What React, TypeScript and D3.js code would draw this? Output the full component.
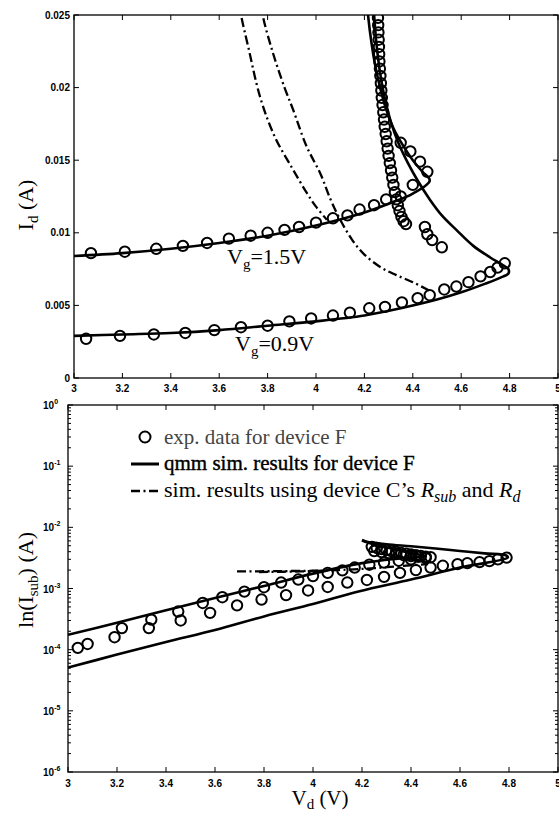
import React from 'react';
import * as d3 from 'd3';

type Pt = [number, number];

// ---------- axis values ----------
const vdTicks = [3, 3.2, 3.4, 3.6, 3.8, 4, 4.2, 4.4, 4.6, 4.8, 5];
const vdTickLabels = ['3', '3.2', '3.4', '3.6', '3.8', '4', '4.2', '4.4', '4.6', '4.8', '5'];
const idTicks = [0, 0.005, 0.01, 0.015, 0.02, 0.025];
const idTickLabels = ['0', '0.005', '0.01', '0.015', '0.02', '0.025'];
const subDecades = [-6, -5, -4, -3, -2, -1, 0];

// ---------- I_d (top panel) ----------
// measured drain current, Vg = 1.5 V (forward sweep and turn-around)
const expId15: Pt[] = [
  [3.07, 0.0086], [3.21, 0.0087], [3.34, 0.0089], [3.45, 0.0091], [3.55, 0.0093],
  [3.64, 0.0096], [3.73, 0.0098], [3.80, 0.0100], [3.87, 0.0102], [3.93, 0.0104],
  [4.00, 0.0107], [4.07, 0.0110], [4.13, 0.0112], [4.18, 0.0116], [4.24, 0.0119],
  [4.29, 0.0123], [4.35, 0.0125], [4.40, 0.0133], [4.46, 0.0142],
  [4.43, 0.0149], [4.39, 0.0156], [4.35, 0.0162],
];
// measured snapback branch
const expIdSnap: Pt[] = [
  [4.256, 0.0248], [4.257, 0.0243], [4.258, 0.0238], [4.259, 0.0233], [4.260, 0.0228],
  [4.261, 0.0223], [4.262, 0.0218], [4.264, 0.0213], [4.266, 0.0208], [4.268, 0.0203],
  [4.270, 0.0198], [4.272, 0.0193], [4.275, 0.0188], [4.278, 0.0183], [4.281, 0.0178],
  [4.284, 0.0173], [4.288, 0.0168], [4.292, 0.0163], [4.296, 0.0158], [4.300, 0.0153],
  [4.305, 0.0148], [4.310, 0.0143], [4.315, 0.0138], [4.320, 0.0133], [4.326, 0.0128],
  [4.332, 0.0123], [4.338, 0.0119], [4.345, 0.0115], [4.353, 0.0111], [4.362, 0.0108],
  [4.372, 0.0106],
  [4.45, 0.0104], [4.46, 0.0099], [4.48, 0.0095], [4.52, 0.0090],
];
// measured drain current, Vg = 0.9 V
const expId09: Pt[] = [
  [3.05, 0.0027], [3.19, 0.0029], [3.33, 0.0030], [3.46, 0.0031], [3.58, 0.0033],
  [3.69, 0.0035], [3.80, 0.0036], [3.89, 0.0039], [3.98, 0.0041], [4.07, 0.0043],
  [4.14, 0.0045], [4.22, 0.0048], [4.285, 0.0049], [4.355, 0.0052], [4.42, 0.0055],
  [4.47, 0.0057], [4.53, 0.0061], [4.58, 0.0063], [4.63, 0.0066], [4.68, 0.0070],
  [4.72, 0.0073], [4.75, 0.0076], [4.78, 0.0079],
];
// qmm simulation, Vg = 1.5 V
const simId15: Pt[] = [
  [3.0, 0.0084], [3.2, 0.0086], [3.4, 0.0089], [3.6, 0.0093], [3.8, 0.0098],
  [4.0, 0.0105], [4.2, 0.0114], [4.3, 0.0120], [4.4, 0.0127], [4.47, 0.0136],
  [4.44, 0.0142], [4.40, 0.0150], [4.36, 0.0160], [4.32, 0.0172], [4.29, 0.0185],
  [4.265, 0.0200], [4.245, 0.0215], [4.23, 0.0230], [4.215, 0.0250], [4.21, 0.0260],
];
// qmm simulation, Vg = 0.9 V
const simId09: Pt[] = [
  [3.0, 0.0029], [3.2, 0.0030], [3.4, 0.0031], [3.6, 0.0033], [3.8, 0.0036],
  [4.0, 0.0039], [4.2, 0.0043], [4.35, 0.0048], [4.5, 0.0054], [4.6, 0.0059],
  [4.7, 0.0065], [4.76, 0.0069], [4.795, 0.0072], [4.795, 0.0075], [4.77, 0.0078],
  [4.72, 0.0083], [4.65, 0.0091], [4.58, 0.0102], [4.52, 0.0112], [4.47, 0.0123],
  [4.42, 0.0136], [4.38, 0.0148], [4.34, 0.0162], [4.31, 0.0176], [4.285, 0.0192],
  [4.265, 0.0210], [4.25, 0.0230], [4.24, 0.0250], [4.235, 0.0260],
];
// simulation with device C's R_sub and R_d
const altId15: Pt[] = [
  [3.68, 0.0260], [3.69, 0.0250], [3.72, 0.0228], [3.77, 0.0193], [3.83, 0.0166],
  [3.90, 0.0145], [3.96, 0.0128], [4.00, 0.0118], [4.045, 0.0109],
];
const altId09: Pt[] = [
  [3.775, 0.0260], [3.78, 0.0250], [3.82, 0.0225], [3.87, 0.0200], [3.905, 0.0185],
  [3.96, 0.0160], [4.02, 0.0140], [4.06, 0.0123], [4.10, 0.0109], [4.15, 0.0095],
  [4.20, 0.0085], [4.27, 0.0076], [4.33, 0.0071], [4.40, 0.0066], [4.47, 0.0060],
];

// ---------- I_sub (bottom panel) ----------
const expSubLow: Pt[] = [
  [3.04, 1.07e-4], [3.19, 1.6e-4], [3.33, 2.25e-4], [3.46, 3.0e-4], [3.58, 4.0e-4],
  [3.69, 5.3e-4], [3.79, 6.6e-4], [3.89, 7.8e-4], [3.98, 9.3e-4], [4.06, 1.06e-3],
  [4.14, 1.25e-3], [4.22, 1.38e-3], [4.29, 1.55e-3], [4.355, 1.8e-3], [4.42, 2.0e-3],
  [4.48, 2.2e-3], [4.53, 2.35e-3], [4.59, 2.5e-3], [4.63, 2.6e-3], [4.68, 2.7e-3],
  [4.72, 2.8e-3], [4.755, 3.0e-3], [4.79, 3.2e-3],
];
const expSubHigh: Pt[] = [
  [3.08, 1.24e-4], [3.22, 2.25e-4], [3.34, 3.1e-4], [3.45, 4.2e-4], [3.55, 5.8e-4],
  [3.63, 7.2e-4], [3.72, 8.9e-4], [3.80, 1.05e-3], [3.87, 1.25e-3], [3.94, 1.4e-3],
  [4.00, 1.6e-3], [4.06, 1.8e-3], [4.12, 1.98e-3], [4.17, 2.2e-3], [4.23, 2.45e-3],
  [4.29, 2.65e-3], [4.35, 2.85e-3], [4.40, 3.0e-3], [4.46, 3.15e-3],
];
const expSubSnap: Pt[] = [
  [4.24, 4.8e-3], [4.26, 4.6e-3], [4.28, 4.4e-3], [4.30, 4.25e-3], [4.32, 4.1e-3],
  [4.34, 3.95e-3], [4.36, 3.8e-3], [4.38, 3.7e-3], [4.40, 3.6e-3], [4.42, 3.5e-3],
  [4.44, 3.4e-3], [4.46, 3.3e-3], [4.48, 3.25e-3], [4.25, 4.1e-3], [4.28, 3.95e-3],
  [4.31, 3.8e-3], [4.34, 3.65e-3], [4.37, 3.5e-3], [4.40, 3.4e-3], [4.43, 3.3e-3],
];
const simSubHigh: Pt[] = [
  [3.0, 1.75e-4], [3.2, 2.75e-4], [3.4, 4.4e-4], [3.6, 7.0e-4], [3.8, 1.1e-3],
  [4.0, 1.75e-3], [4.2, 2.6e-3], [4.35, 3.1e-3], [4.46, 3.4e-3], [4.40, 3.8e-3],
  [4.33, 4.4e-3], [4.27, 5.0e-3], [4.22, 5.7e-3], [4.20, 6.1e-3],
];
const simSubLow: Pt[] = [
  [3.0, 5.1e-5], [3.2, 8.3e-5], [3.4, 1.34e-4], [3.6, 2.1e-4], [3.8, 3.5e-4],
  [4.0, 5.6e-4], [4.19, 9.0e-4], [4.4, 1.4e-3], [4.6, 2.2e-3], [4.795, 3.2e-3],
  [4.79, 3.45e-3], [4.7, 3.75e-3], [4.6, 4.1e-3], [4.5, 4.5e-3], [4.4, 4.9e-3],
  [4.3, 5.3e-3], [4.22, 5.8e-3], [4.20, 6.2e-3],
];
const altSub15: Pt[] = [
  [3.69, 1.9e-3], [3.85, 1.92e-3], [4.0, 1.95e-3], [4.05, 1.95e-3],
];
const altSub09: Pt[] = [
  [3.78, 1.86e-3], [3.95, 1.9e-3], [4.1, 2.0e-3], [4.25, 2.15e-3], [4.4, 2.4e-3],
  [4.47, 2.5e-3],
];

// ---------- layout ----------
const W = 559;
const H = 814;
const top = { l: 74, r: 558, t: 15, b: 378 };
const bot = { l: 68, r: 558, t: 405, b: 772 };

const xTop = d3.scaleLinear().domain([3, 5]).range([top.l, top.r]);
const yTop = d3.scaleLinear().domain([0, 0.025]).range([top.b, top.t]);
const xBot = d3.scaleLinear().domain([3, 5]).range([bot.l, bot.r]);
const yBot = d3.scaleLog().domain([1e-6, 1]).range([bot.b, bot.t]);

const lineTop = d3.line<Pt>().x((d) => xTop(d[0])).y((d) => yTop(d[1])).curve(d3.curveCatmullRom.alpha(0.5));
const lineBot = d3.line<Pt>().x((d) => xBot(d[0])).y((d) => yBot(d[1])).curve(d3.curveCatmullRom.alpha(0.5));

const tickFont = { fontFamily: '"Liberation Sans", Arial, sans-serif', fontWeight: 700, fontSize: 10 };
const serif = '"Liberation Serif", "Times New Roman", serif';
const DASHDOT = '9,3.5,2,3.5';

function Circles({ data, x, y }: { data: Pt[]; x: (v: number) => number; y: (v: number) => number }) {
  return (
    <g fill="none" stroke="#000" strokeWidth={2}>
      {data.map((d, i) => (
        <circle key={i} cx={x(d[0])} cy={y(d[1])} r={5.2} />
      ))}
    </g>
  );
}

export default function App() {
  const minorSub = yBot.ticks().filter((v) => Math.abs(Math.log10(v) - Math.round(Math.log10(v))) > 1e-6);
  return (
    <svg width={W} height={H} style={{ position: 'absolute', left: 0, top: 0, background: '#fff' }}>
      <defs>
        <clipPath id="clipTop">
          <rect x={top.l} y={top.t} width={top.r - top.l} height={top.b - top.t} />
        </clipPath>
        <clipPath id="clipBot">
          <rect x={bot.l} y={bot.t} width={bot.r - bot.l} height={bot.b - bot.t} />
        </clipPath>
      </defs>

      {/* ===== top panel: I_d ===== */}
      <g clipPath="url(#clipTop)" fill="none" stroke="#000">
        <path d={lineTop(altId15) || ''} strokeWidth={2.3} strokeDasharray={DASHDOT} />
        <path d={lineTop(altId09) || ''} strokeWidth={2.3} strokeDasharray={DASHDOT} />
        <path d={lineTop(simId15) || ''} strokeWidth={2.6} />
        <path d={lineTop(simId09) || ''} strokeWidth={2.6} />
        <Circles data={expId15} x={xTop} y={yTop} />
        <Circles data={expIdSnap} x={xTop} y={yTop} />
        <Circles data={expId09} x={xTop} y={yTop} />
      </g>
      <rect x={top.l} y={top.t} width={top.r - top.l} height={top.b - top.t} fill="none" stroke="#000" strokeWidth={1.3} />
      <g stroke="#000" strokeWidth={1}>
        {vdTicks.map((v, i) => (
          <g key={i}>
            <line x1={xTop(v)} x2={xTop(v)} y1={top.b} y2={top.b - 5} />
            <line x1={xTop(v)} x2={xTop(v)} y1={top.t} y2={top.t + 5} />
          </g>
        ))}
        {idTicks.map((v, i) => (
          <g key={i}>
            <line x1={top.l} x2={top.l + 5} y1={yTop(v)} y2={yTop(v)} />
            <line x1={top.r} x2={top.r - 5} y1={yTop(v)} y2={yTop(v)} />
          </g>
        ))}
      </g>
      <g {...tickFont}>
        {vdTicks.map((v, i) => (
          <text key={i} x={xTop(v)} y={top.b + 14} textAnchor="middle">{vdTickLabels[i]}</text>
        ))}
        {idTicks.map((v, i) => (
          <text key={i} x={top.l - 4} y={yTop(v) + 3.5} textAnchor="end">{idTickLabels[i]}</text>
        ))}
      </g>
      <text transform="translate(33,205) rotate(-90)" textAnchor="middle" fontFamily={serif} fontSize={22}>
        I<tspan dy={5} fontSize={15}>d</tspan><tspan dy={-5}> (A)</tspan>
      </text>
      <g fontFamily={serif} fontSize={22}>
        <text x={227} y={264}>V<tspan dy={5} fontSize={15}>g</tspan><tspan dy={-5}>=1.5V</tspan></text>
        <text x={235} y={351}>V<tspan dy={5} fontSize={15}>g</tspan><tspan dy={-5}>=0.9V</tspan></text>
      </g>

      {/* ===== bottom panel: I_sub ===== */}
      <g clipPath="url(#clipBot)" fill="none" stroke="#000">
        <path d={lineBot(altSub15) || ''} strokeWidth={2.3} strokeDasharray={DASHDOT} />
        <path d={lineBot(altSub09) || ''} strokeWidth={2.3} strokeDasharray={DASHDOT} />
        <path d={lineBot(simSubHigh) || ''} strokeWidth={2.6} />
        <path d={lineBot(simSubLow) || ''} strokeWidth={2.6} />
        <Circles data={expSubLow} x={xBot} y={yBot} />
        <Circles data={expSubHigh} x={xBot} y={yBot} />
        <Circles data={expSubSnap} x={xBot} y={yBot} />
      </g>
      <rect x={bot.l} y={bot.t} width={bot.r - bot.l} height={bot.b - bot.t} fill="none" stroke="#000" strokeWidth={1.3} />
      <g stroke="#000" strokeWidth={1}>
        {vdTicks.map((v, i) => (
          <g key={i}>
            <line x1={xBot(v)} x2={xBot(v)} y1={bot.b} y2={bot.b - 5} />
            <line x1={xBot(v)} x2={xBot(v)} y1={bot.t} y2={bot.t + 5} />
          </g>
        ))}
        {subDecades.map((e, i) => (
          <g key={i}>
            <line x1={bot.l} x2={bot.l + 5} y1={yBot(Math.pow(10, e))} y2={yBot(Math.pow(10, e))} />
            <line x1={bot.r} x2={bot.r - 5} y1={yBot(Math.pow(10, e))} y2={yBot(Math.pow(10, e))} />
          </g>
        ))}
        {minorSub.map((v, i) => (
          <g key={i}>
            <line x1={bot.l} x2={bot.l + 3} y1={yBot(v)} y2={yBot(v)} />
            <line x1={bot.r} x2={bot.r - 3} y1={yBot(v)} y2={yBot(v)} />
          </g>
        ))}
      </g>
      <g {...tickFont}>
        {vdTicks.map((v, i) => (
          <text key={i} x={xBot(v)} y={bot.b + 15} textAnchor="middle">{vdTickLabels[i]}</text>
        ))}
        {subDecades.map((e, i) => (
          <text key={i} x={43} y={yBot(Math.pow(10, e)) + 4}>
            10<tspan dy={-5} fontSize={7}>{e === 0 ? '0' : `-${-e}`}</tspan>
          </text>
        ))}
      </g>
      <text transform="translate(33,580) rotate(-90)" textAnchor="middle" fontFamily={serif} fontSize={22}>
        ln(I<tspan dy={5} fontSize={15}>sub</tspan><tspan dy={-5}>) (A)</tspan>
      </text>
      <text x={320} y={805} textAnchor="middle" fontFamily={serif} fontSize={21}>
        V<tspan dy={4} fontSize={15}>d</tspan><tspan dy={-4}> (V)</tspan>
      </text>

      {/* legend */}
      <g>
        <circle cx={145} cy={437} r={5.5} fill="none" stroke="#000" strokeWidth={2} />
        <line x1={131} x2={159} y1={464} y2={464} stroke="#000" strokeWidth={3} />
        <line x1={131} x2={159} y1={491} y2={491} stroke="#000" strokeWidth={2.4} strokeDasharray={DASHDOT} />
        <g fontFamily={serif} fontSize={21}>
          <text x={164} y={444} fill="#444">exp. data for device F</text>
          <text x={164} y={470} stroke="#000" strokeWidth={0.4}>qmm sim. results for device F</text>
          <text x={164} y={497} fontSize={22}>
            sim. results using device C’s <tspan fontStyle="italic">R</tspan>
            <tspan dy={5} fontSize={16} fontStyle="italic">sub</tspan>
            <tspan dy={-5}> and </tspan>
            <tspan fontStyle="italic">R</tspan>
            <tspan dy={5} fontSize={16} fontStyle="italic">d</tspan>
          </text>
        </g>
      </g>
    </svg>
  );
}
